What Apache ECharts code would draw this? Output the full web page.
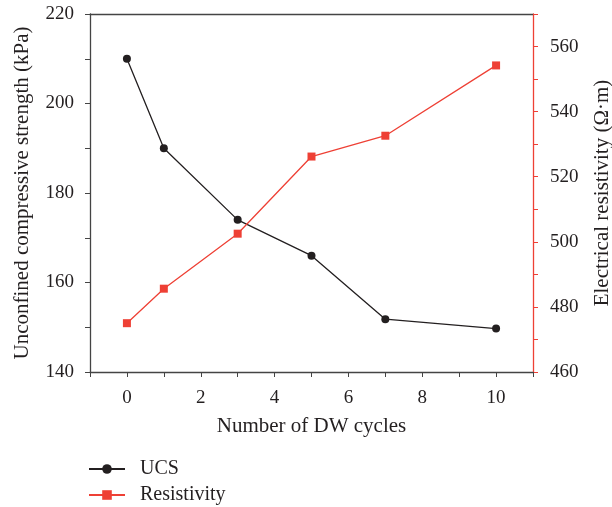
<!DOCTYPE html>
<html><head><meta charset="utf-8">
<script src="https://cdn.jsdelivr.net/npm/echarts@6/dist/echarts.min.js"></script>
<style>html,body{margin:0;padding:0;background:#fff}#c{width:612px;height:507px}</style>
</head><body><div id="c"></div>
<script>
const cycles = [0, 1, 3, 5, 7, 10];
const ucs = [210, 190, 174, 166, 151.8, 149.7];
const resistivity = [475, 485.6, 502.5, 526.2, 532.6, 554.2];
const seriesNames = ['UCS', 'Resistivity'];

const FONT = '"Liberation Serif", "DejaVu Serif", serif';
const BLACK = '#231f20';
const RED = '#ee4035';
const AXIS = '#444';
const legendBase = {
  orient: 'vertical', left: 83, itemWidth: 36, itemHeight: 12,
  textStyle: {fontFamily: FONT, fontSize: 20, color: BLACK, padding: [0, 0, 0, 10]}
};
const chart = echarts.init(document.getElementById('c'), null, {renderer: 'canvas'});
chart.setOption({
  animation: false,
  textStyle: {fontFamily: FONT},
  grid: {left: 90, right: 79, top: 14, bottom: 135, show: false, containLabel: false, outerBoundsMode: 'none'},
  legend: [
    Object.assign({}, legendBase, {top: 454, data: [seriesNames[0]]}),
    Object.assign({}, legendBase, {top: 480, data: [seriesNames[1]]})
  ],
  xAxis: [{
    type: 'value', min: -1, max: 11, interval: 1, position: 'bottom',
    name: 'Number of DW cycles', nameLocation: 'middle', nameGap: 44,
    nameTextStyle: {fontFamily: FONT, fontSize: 21, color: BLACK},
    axisLine: {onZero: false, lineStyle: {color: AXIS, width: 1.3}},
    axisTick: {show: true, length: 5, lineStyle: {color: AXIS}},
    axisLabel: {fontFamily: FONT, fontSize: 19, color: BLACK, margin: 17,
      formatter: v => (v % 2 === 0 && v >= 0 && v <= 10) ? String(v) : ''},
    splitLine: {show: false}
  }, {
    type: 'value', min: -1, max: 11, interval: 1, position: 'top',
    axisLine: {onZero: false, lineStyle: {color: AXIS, width: 1.3}},
    axisTick: {show: false}, axisLabel: {show: false}, splitLine: {show: false}
  }],
  yAxis: [
    {
      type: 'value', min: 140, max: 220, interval: 10, position: 'left',
      name: 'Unconfined compressive strength (kPa)', nameLocation: 'middle', nameGap: 57, nameRotate: 90,
      nameTextStyle: {fontFamily: FONT, fontSize: 21, color: BLACK},
      axisLine: {show: true, onZero: false, lineStyle: {color: AXIS, width: 1.3}},
      axisTick: {show: true, length: 5, lineStyle: {color: AXIS}},
      axisLabel: {fontFamily: FONT, fontSize: 19, color: BLACK, margin: 16,
        formatter: v => v % 20 === 0 ? String(v) : ''},
      splitLine: {show: false}
    },
    {
      type: 'value', min: 460, max: 570, interval: 10, position: 'right',
      name: 'Electrical resistivity (Ω·m)', nameLocation: 'middle', nameGap: 59, nameRotate: 90,
      nameTextStyle: {fontFamily: FONT, fontSize: 21, color: BLACK},
      axisLine: {show: true, onZero: false, lineStyle: {color: RED, width: 1.3}},
      axisTick: {show: true, length: 5, lineStyle: {color: RED}},
      axisLabel: {fontFamily: FONT, fontSize: 19, color: BLACK, margin: 17,
        formatter: v => (v % 20 === 0 && v <= 560) ? String(v) : ''},
      splitLine: {show: false}
    }
  ],
  series: [
    {
      name: seriesNames[0], type: 'line', yAxisIndex: 0,
      data: cycles.map((c, i) => [c, ucs[i]]),
      symbol: 'circle', symbolSize: 8,
      lineStyle: {color: BLACK, width: 1.3}, itemStyle: {color: BLACK}
    },
    {
      name: seriesNames[1], type: 'line', yAxisIndex: 1,
      data: cycles.map((c, i) => [c, resistivity[i]]),
      symbol: 'rect', symbolSize: 8,
      lineStyle: {color: RED, width: 1.3}, itemStyle: {color: RED}
    }
  ]
});
</script></body></html>
